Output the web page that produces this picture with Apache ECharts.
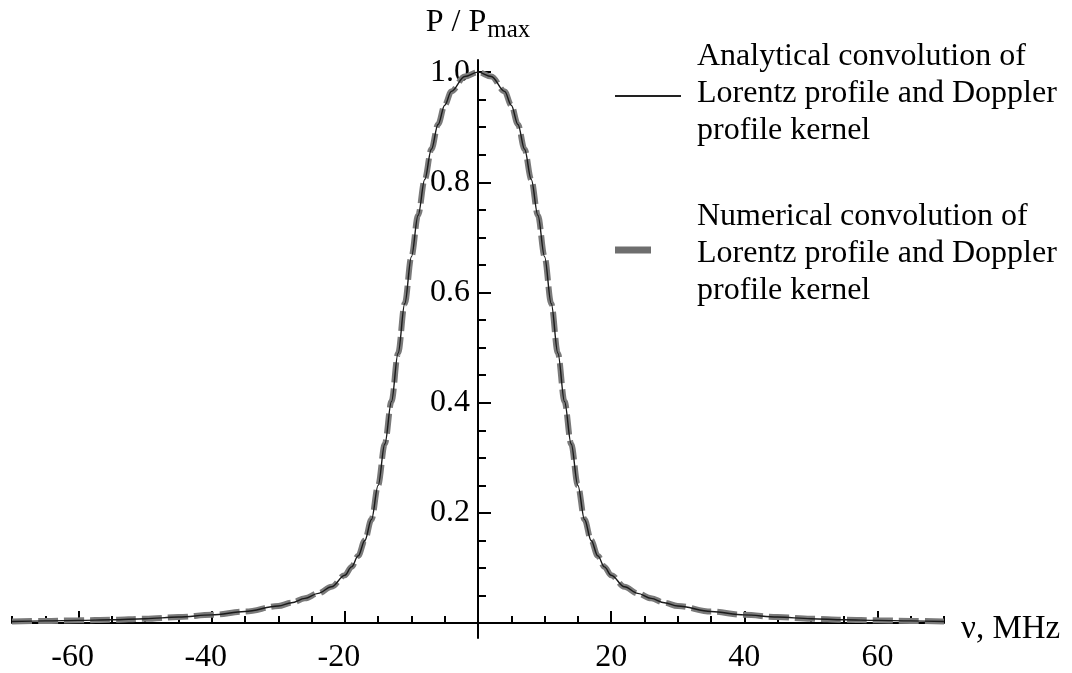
<!DOCTYPE html>
<html>
<head>
<meta charset="utf-8">
<script src="https://cdn.jsdelivr.net/npm/echarts@6/dist/echarts.min.js"></script>
<style>
html,body{margin:0;padding:0;background:#fff;}
#chart{width:1072px;height:673px;}
</style>
</head>
<body>
<div id="chart"></div>
<script>
// Frequency detuning, MHz
const xValues = [-70,-65,-60,-55,-50,-45,-40,-35,-30,-28,-26,-24,-22,-20,-19,-18,-17,-16,-15,-14,-13,-12,-11,-10,-9,-8,-7,-6,-5,-4,-2,0,2,4,5,6,7,8,9,10,11,12,13,14,15,16,17,18,19,20,22,24,26,28,30,35,40,45,50,55,60,65,70];
// Analytical convolution (P / Pmax)
const analyticalValues = [0.003,0.004,0.005,0.006,0.008,0.011,0.015,0.021,0.031,0.037,0.045,0.054,0.066,0.087,0.102,0.122,0.150,0.188,0.250,0.325,0.402,0.490,0.580,0.665,0.740,0.805,0.860,0.905,0.940,0.965,0.992,1.000,0.992,0.965,0.940,0.905,0.860,0.805,0.740,0.665,0.580,0.490,0.402,0.325,0.250,0.188,0.150,0.122,0.102,0.087,0.066,0.054,0.045,0.037,0.031,0.021,0.015,0.011,0.008,0.006,0.005,0.004,0.003];
// Numerical convolution (P / Pmax)
const numericalValues = [0.003,0.004,0.005,0.006,0.008,0.011,0.015,0.021,0.031,0.037,0.045,0.054,0.066,0.087,0.102,0.122,0.150,0.188,0.250,0.325,0.402,0.490,0.580,0.665,0.740,0.805,0.860,0.905,0.940,0.965,0.992,1.000,0.992,0.965,0.940,0.905,0.860,0.805,0.740,0.665,0.580,0.490,0.402,0.325,0.250,0.188,0.150,0.122,0.102,0.087,0.066,0.054,0.045,0.037,0.031,0.021,0.015,0.011,0.008,0.006,0.005,0.004,0.003];

const xMajorTicks = [-60,-40,-20,20,40,60];
const xMinorTicks = [-70,-65,-55,-50,-45,-35,-30,-25,-15,-10,-5,5,10,15,25,30,35,45,50,55,65,70];
const yMajorTicks = [0.2,0.4,0.6,0.8,1.0];
const yMinorTicks = [0.05,0.1,0.15,0.25,0.3,0.35,0.45,0.5,0.55,0.65,0.7,0.75,0.85,0.9,0.95];

const legendLines1 = ['Analytical convolution of','Lorentz profile and Doppler','profile kernel'];
const legendLines2 = ['Numerical convolution of','Lorentz profile and Doppler','profile kernel'];

const FONT = "'Liberation Serif','Times New Roman',serif";
const FS = 32;
const X_MIN = -70, X_MAX = 70, Y_MIN = -0.027, Y_MAX = 1.022;

// grid geometry: plot spans x 12..944, y 60..638
const GRID = {left:12, right:128, top:60, bottom:35};
const PLOT_W = 1072 - GRID.left - GRID.right;
const PLOT_H = 673 - GRID.top - GRID.bottom;
// place the axes through the origin (offset from the grid edges)
const Y_AXIS_OFFSET = -((0 - X_MIN) / (X_MAX - X_MIN)) * PLOT_W;
const X_AXIS_OFFSET = -((0 - Y_MIN) / (Y_MAX - Y_MIN)) * PLOT_H;

const chart = echarts.init(document.getElementById('chart'), null, {renderer:'canvas'});

function xAxisBase(extra){
  return Object.assign({
    type:'value', min:X_MIN, max:X_MAX, position:'bottom', offset:X_AXIS_OFFSET,
    splitLine:{show:false}
  }, extra);
}
function yAxisBase(extra){
  return Object.assign({
    type:'value', min:Y_MIN, max:Y_MAX, position:'left', offset:Y_AXIS_OFFSET,
    splitLine:{show:false}
  }, extra);
}

const legendGraphics = [];
legendLines1.forEach((t,i)=>{
  legendGraphics.push({type:'text', left:697, top:41 + i*37, style:{text:t, font:FS+'px '+FONT, fill:'#000'}});
});
legendLines2.forEach((t,i)=>{
  legendGraphics.push({type:'text', left:697, top:201 + i*37, style:{text:t, font:FS+'px '+FONT, fill:'#000'}});
});
legendGraphics.push({type:'line', shape:{x1:615,y1:96,x2:681,y2:96}, style:{stroke:'#222', lineWidth:2}});
legendGraphics.push({type:'line', shape:{x1:615,y1:250,x2:651,y2:250}, style:{stroke:'#6e6e6e', lineWidth:7}});

const labelFont = {fontFamily:FONT, fontSize:FS, color:'#000'};

chart.setOption({
  animation:false,
  backgroundColor:'#fff',
  grid:{left:GRID.left, right:GRID.right, top:GRID.top, bottom:GRID.bottom, containLabel:false, outerBoundsMode:'none'},
  xAxis:[
    xAxisBase({
      name:'{n|\u03bd, MHz}', nameLocation:'end', nameGap:17,
      nameTextStyle:{rich:{n:{fontFamily:FONT, fontSize:33, color:'#000', padding:[12,0,0,0]}}},
      axisLine:{onZero:false, lineStyle:{color:'#000', width:2}},
      axisTick:{inside:true, length:12, customValues:xMajorTicks, lineStyle:{color:'#000', width:2}},
      axisLabel:Object.assign({
        customValues:xMajorTicks, margin:18,
        formatter:function(v){ return v < 0 ? '{neg|' + v + '}' : String(v); },
        rich:{neg:Object.assign({padding:[0,12,0,0]}, labelFont)}
      }, labelFont)
    }),
    xAxisBase({
      axisLine:{show:false, onZero:false},
      axisTick:{inside:true, length:7, customValues:xMinorTicks, lineStyle:{color:'#000', width:2}},
      axisLabel:{show:false}
    })
  ],
  yAxis:[
    yAxisBase({
      name:'{a|P / P}{b|max}', nameLocation:'end', nameGap:17,
      nameTextStyle:{
        rich:{
          a:{fontFamily:FONT, fontSize:32, color:'#000'},
          b:{fontFamily:FONT, fontSize:25, color:'#000', padding:[16,0,0,1]}
        }
      },
      axisLine:{onZero:false, lineStyle:{color:'#000', width:2}},
      axisTick:{inside:true, length:13, customValues:yMajorTicks, lineStyle:{color:'#000', width:2}},
      axisLabel:Object.assign({customValues:yMajorTicks, margin:8,
                 formatter:function(v){return v.toFixed(1);}}, labelFont)
    }),
    yAxisBase({
      axisLine:{show:false, onZero:false},
      axisTick:{inside:true, length:8, customValues:yMinorTicks, lineStyle:{color:'#000', width:2}},
      axisLabel:{show:false}
    })
  ],
  graphic:legendGraphics,
  series:[
    {
      name:'Numerical convolution', type:'line', xAxisIndex:0, yAxisIndex:0,
      data:xValues.map((x,i)=>[x, numericalValues[i]]),
      showSymbol:false, smooth:0.35, smoothMonotone:'x',
      lineStyle:{color:'#7a7a7a', width:6, type:[20,6]}, z:2
    },
    {
      name:'Analytical convolution', type:'line', xAxisIndex:0, yAxisIndex:0,
      data:xValues.map((x,i)=>[x, analyticalValues[i]]),
      showSymbol:false, smooth:0.35, smoothMonotone:'x',
      lineStyle:{color:'#1a1a1a', width:1.4}, z:3
    }
  ]
});
</script>
</body>
</html>
